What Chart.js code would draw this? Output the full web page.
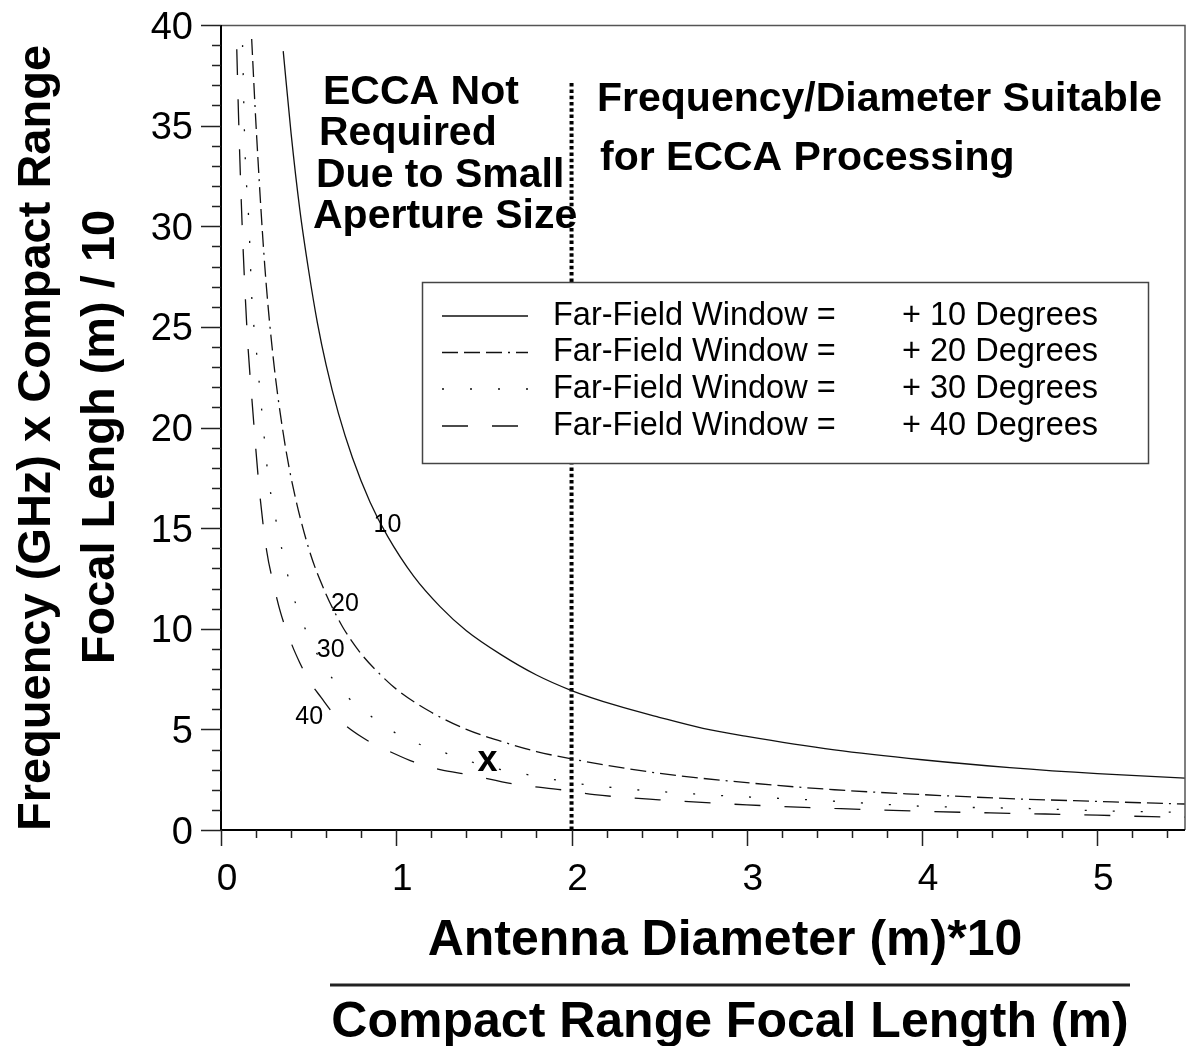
<!DOCTYPE html>
<html>
<head>
<meta charset="utf-8">
<script src="https://cdn.jsdelivr.net/npm/chart.js@4.4.1/dist/chart.umd.min.js"></script>
<style>
  html, body { margin: 0; padding: 0; background: #fff; }
  canvas { display: block; }
</style>
</head>
<body>
<canvas id="chart" width="1191" height="1046"></canvas>
<script>
// Axis tick labels
const xTickValues = [0, 1, 2, 3, 4, 5];
const yTickValues = [0, 5, 10, 15, 20, 25, 30, 35, 40];

// Far-field window curves: product of frequency and focal length vs. diameter ratio
const x10 = [0.355, 0.4, 0.45, 0.5, 0.55, 0.6, 0.67, 0.75, 0.85, 0.95, 1.1, 1.25, 1.4, 1.6, 1.8, 2.0, 2.25, 2.5, 2.75, 3.0, 3.5, 4.0, 4.5, 5.0, 5.5];
const y10 = [38.7, 34.6, 30.8, 27.8, 25.2, 23.1, 20.7, 18.5, 16.3, 14.6, 12.6, 11.1, 9.9, 8.7, 7.7, 6.93, 6.2, 5.6, 5.05, 4.65, 3.98, 3.49, 3.1, 2.8, 2.58];

const x20 = [0.175, 0.2, 0.25, 0.3, 0.35, 0.4, 0.5, 0.6, 0.65, 0.7, 0.8, 0.9, 1.0, 1.2, 1.4, 1.6, 1.8, 2.0, 2.5, 3.0, 3.5, 4.0, 4.5, 5.0, 5.5];
const y20 = [39.3, 35.0, 28.0, 23.3, 20.0, 17.5, 14.0, 11.7, 10.8, 10.0, 8.75, 7.8, 7.0, 5.85, 5.0, 4.4, 3.9, 3.53, 2.82, 2.35, 2.0, 1.76, 1.56, 1.42, 1.29];

const x30 = [0.123, 0.136, 0.16, 0.176, 0.2, 0.25, 0.27, 0.3, 0.4, 0.5, 0.6, 0.69, 0.82, 1.0, 1.15, 1.29, 1.5, 1.8, 2.07, 2.7, 3.38, 3.98, 4.64, 5.0, 5.5];
const y30 = [39.0, 34.0, 30.0, 26.4, 24.0, 19.2, 17.5, 16.0, 12.0, 9.6, 8.0, 6.9, 5.9, 4.8, 4.2, 3.8, 3.2, 2.67, 2.27, 1.79, 1.49, 1.19, 1.06, 0.96, 0.87];

const x40 = [0.09, 0.1, 0.12, 0.15, 0.18, 0.22, 0.26, 0.3, 0.34, 0.4, 0.45, 0.5, 0.57, 0.66, 0.81, 1.0, 1.1, 1.25, 1.42, 1.67, 1.95, 2.13, 2.5, 3.0, 3.5, 4.0, 4.5, 5.0, 5.31, 5.5];
const y40 = [38.8, 35.5, 30.2, 24.6, 21.0, 16.8, 13.9, 12.2, 10.8, 9.3, 8.3, 7.45, 6.6, 5.6, 4.58, 3.75, 3.38, 3.0, 2.74, 2.29, 1.99, 1.76, 1.5, 1.25, 1.07, 0.93, 0.83, 0.74, 0.66, 0.64];

// Boundary between the two regions
const boundaryX = [2, 2];
const boundaryY = [0, 37.2];

// Curve tags and the marked design point, in data units
const tagText = ['10', '20', '30', '40'];
const tagX = [0.95, 0.707, 0.626, 0.503];
const tagY = [15.17, 11.2, 8.92, 5.62];
const markX = 1.52, markY = 3.28;

const legendPrefix = 'Far-Field Window =';
const legendSuffix = ['+ 10 Degrees', '+ 20 Degrees', '+ 30 Degrees', '+ 40 Degrees'];

const FONT = '"Liberation Sans", Arial, Helvetica, sans-serif';
const INK = '#000';

const dashes = [[], [16, 6, 16, 6, 16, 6, 2, 6], [2, 26], [26, 24]];
const curveX = [x10, x20, x30, x40];
const curveY = [y10, y20, y30, y40];

const pairs = (xs, ys) => xs.map((v, i) => ({ x: v, y: ys[i] }));

const datasets = curveX.map((xs, i) => ({
  label: legendSuffix[i],
  data: pairs(xs, curveY[i]),
  showLine: true,
  borderColor: '#111',
  borderWidth: 1.3,
  borderDash: dashes[i],
  pointRadius: 0,
  cubicInterpolationMode: 'monotone',
  fill: false
}));
datasets.push({
  label: 'boundary',
  data: pairs(boundaryX, boundaryY),
  showLine: true,
  borderColor: INK,
  borderWidth: 4,
  borderDash: [3.5, 2.8],
  pointRadius: 0,
  fill: false
});

const decor = {
  id: 'decor',
  afterDatasetsDraw(chart) {
    const { ctx, scales: { x, y } } = chart;
    ctx.save();

    // curve tags and design point
    ctx.fillStyle = INK;
    ctx.textAlign = 'center';
    ctx.textBaseline = 'middle';
    ctx.font = '25px ' + FONT;
    tagText.forEach((t, i) => ctx.fillText(t, x.getPixelForValue(tagX[i]), y.getPixelForValue(tagY[i])));
    ctx.font = 'bold 36px ' + FONT;
    ctx.fillText('x', x.getPixelForValue(markX), y.getPixelForValue(markY) - 3);

    // region notes
    ctx.textAlign = 'left';
    ctx.textBaseline = 'alphabetic';
    ctx.font = 'bold 41px ' + FONT;
    ctx.fillText('ECCA Not', 323, 104);
    ctx.fillText('Required', 319, 145);
    ctx.fillText('Due to Small', 316, 187);
    ctx.fillText('Aperture Size', 313, 228);
    ctx.fillText('Frequency/Diameter Suitable', 597, 111);
    ctx.fillText('for ECCA Processing', 600, 170);

    // legend box
    const lx = 422, ly = 282, lw = 726, lh = 181;
    ctx.fillStyle = '#fff';
    ctx.fillRect(lx, ly, lw, lh);
    ctx.strokeStyle = '#444';
    ctx.lineWidth = 1.5;
    ctx.strokeRect(lx + 0.5, ly + 0.5, lw, lh);
    const rows = [316, 352.5, 389, 426];
    ctx.font = '32.5px ' + FONT;
    ctx.fillStyle = INK;
    ctx.textBaseline = 'middle';
    rows.forEach((ry, i) => {
      ctx.save();
      ctx.strokeStyle = '#111';
      ctx.lineWidth = 1.3;
      ctx.setLineDash(dashes[i]);
      ctx.beginPath();
      ctx.moveTo(442, ry);
      ctx.lineTo(528, ry);
      ctx.stroke();
      ctx.restore();
      ctx.fillText(legendPrefix, 553, ry);
      ctx.fillText(legendSuffix[i], 902, ry);
    });
    ctx.restore();
  },
  afterDraw(chart) {
    const { ctx, chartArea: a, scales: { x, y } } = chart;
    ctx.save();
    // upper and right frame
    ctx.strokeStyle = '#555';
    ctx.lineWidth = 1.5;
    ctx.beginPath();
    ctx.moveTo(a.left, a.top + 0.5);
    ctx.lineTo(a.right, a.top + 0.5);
    ctx.lineTo(a.right, a.bottom);
    ctx.stroke();

    // axes
    ctx.strokeStyle = INK;
    ctx.lineWidth = 2;
    ctx.beginPath();
    ctx.moveTo(a.left, a.top);
    ctx.lineTo(a.left, a.bottom);
    ctx.lineTo(a.right, a.bottom);
    ctx.stroke();

    // y ticks: every unit, longer every five
    ctx.lineWidth = 1.5;
    ctx.strokeStyle = '#222';
    ctx.beginPath();
    for (let v = y.min; v <= y.max + 1e-9; v += 1) {
      const py = Math.round(y.getPixelForValue(v)) + 0.5;
      const len = (Math.round(v) % 5 === 0) ? 20 : 9;
      ctx.moveTo(a.left - len, py);
      ctx.lineTo(a.left, py);
    }
    // x ticks: every 0.2, longer at whole numbers
    for (let k = 0; k * 0.2 <= x.max + 1e-9; k++) {
      const px = Math.round(x.getPixelForValue(k * 0.2)) + 0.5;
      const len = (k % 5 === 0) ? 16 : 8;
      ctx.moveTo(px, a.bottom);
      ctx.lineTo(px, a.bottom + len);
    }
    ctx.stroke();

    // tick labels
    ctx.fillStyle = INK;
    ctx.font = '38px ' + FONT;
    ctx.textAlign = 'right';
    ctx.textBaseline = 'alphabetic';
    yTickValues.forEach(v => ctx.fillText(String(v), 193, y.getPixelForValue(v) + 13.5));
    ctx.font = '37px ' + FONT;
    ctx.textAlign = 'center';
    xTickValues.forEach(v => ctx.fillText(String(v), x.getPixelForValue(v) + 6, 890));

    // axis titles
    ctx.font = 'bold 50px ' + FONT;
    ctx.fillText('Antenna Diameter (m)*10', 725, 955);
    ctx.fillText('Compact Range Focal Length (m)', 730, 1037);
    ctx.lineWidth = 3;
    ctx.beginPath();
    ctx.moveTo(330, 985);
    ctx.lineTo(1130, 985);
    ctx.stroke();

    ctx.font = 'bold 47px ' + FONT;
    ctx.save();
    ctx.translate(50, 438);
    ctx.rotate(-Math.PI / 2);
    ctx.fillText('Frequency (GHz) x Compact Range', 0, 0);
    ctx.restore();
    ctx.save();
    ctx.translate(114, 437);
    ctx.rotate(-Math.PI / 2);
    ctx.fillText('Focal Lengh (m) / 10', 0, 0);
    ctx.restore();

    ctx.restore();
  }
};

new Chart(document.getElementById('chart'), {
  type: 'scatter',
  data: { datasets },
  options: {
    responsive: false,
    animation: false,
    devicePixelRatio: 1,
    layout: { padding: { left: 221, top: 25, right: 6, bottom: 216 } },
    plugins: { legend: { display: false }, tooltip: { enabled: false } },
    scales: {
      x: { type: 'linear', min: 0, max: 5.5, display: false },
      y: { type: 'linear', min: 0, max: 40, display: false }
    }
  },
  plugins: [decor]
});
</script>
</body>
</html>
